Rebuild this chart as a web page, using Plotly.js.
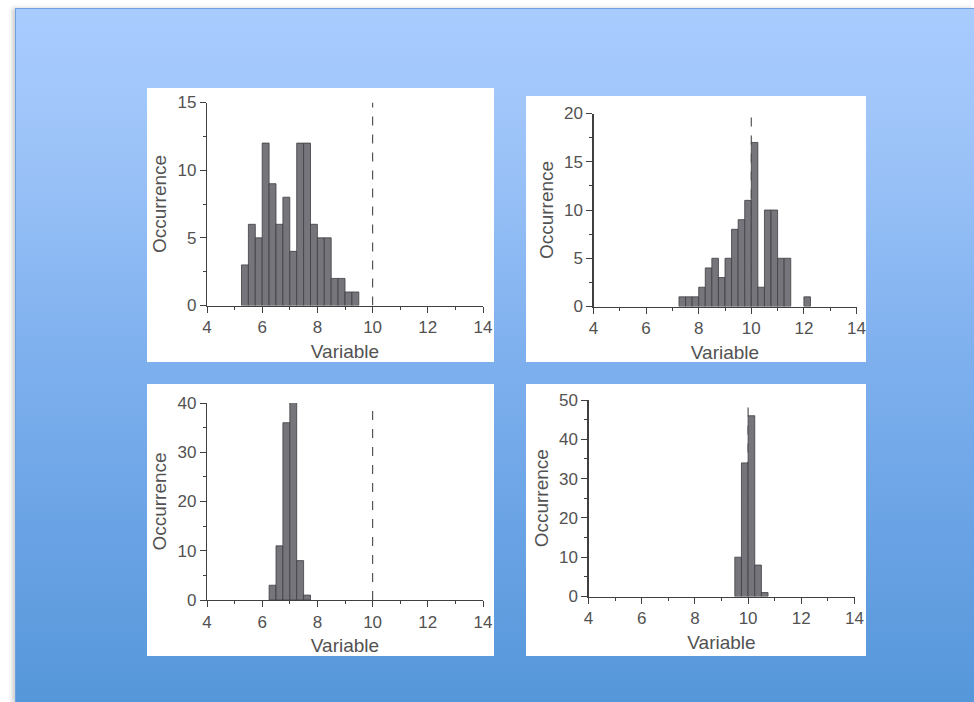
<!DOCTYPE html>
<html>
<head>
<meta charset="utf-8">
<script src="https://cdn.plot.ly/plotly-3.0.1.min.js"></script>
<style>
  html, body { margin: 0; padding: 0; background: #ffffff; }
  #wrap { position: relative; width: 974px; height: 702px; overflow: hidden; background: #ffffff; }
  #bg { position: absolute; left: 15px; top: 8px; width: 959px; height: 694px;
        background: linear-gradient(to bottom, #a9ccff 0%, #9cc3f8 20%, #7eb0ee 50%, #6aa3e5 75%, #5597da 100%);
        border-top: 1px solid #6f9fe0; border-left: 1px solid #6f9fe0;
        box-shadow: -3px 0 4px rgba(120,120,120,0.35); }
  #chart { position: absolute; left: 0; top: 0; width: 974px; height: 702px; }
</style>
</head>
<body>
<div id="wrap">
  <div id="bg"></div>
  <div id="chart"></div>
</div>
<script>
// ---------------- data ----------------
const binWidth = 0.25;
const targetValue = 10;

const binCenters1 = [5.375, 5.625, 5.875, 6.125, 6.375, 6.625, 6.875, 7.125, 7.375, 7.625, 7.875, 8.125, 8.375, 8.625, 8.875, 9.125, 9.375];
const counts1     = [3, 6, 5, 12, 9, 6, 8, 4, 12, 12, 6, 5, 5, 2, 2, 1, 1];

const binCenters2 = [7.375, 7.625, 7.875, 8.125, 8.375, 8.625, 8.875, 9.125, 9.375, 9.625, 9.875, 10.125, 10.375, 10.625, 10.875, 11.125, 11.375, 12.125];
const counts2     = [1, 1, 1, 2, 4, 5, 3, 5, 8, 9, 11, 17, 2, 10, 10, 5, 5, 1];

const binCenters3 = [6.375, 6.625, 6.875, 7.125, 7.375, 7.625];
const counts3     = [3, 11, 36, 41, 8, 1];

const binCenters4 = [9.625, 9.875, 10.125, 10.375, 10.625];
const counts4     = [10, 34, 46, 8, 1];

const xTickVals   = [4, 6, 8, 10, 12, 14];
const yMax        = [15, 20, 40, 50];
const yDtick      = [5, 5, 10, 10];
const yMinorDtick = [2.5, 2.5, 5, 5];
const refLineTop  = [15, 20, 40, 49];
const xLabel = "Variable";
const yLabel = "Occurrence";

// ---------------- layout geometry (pixels -> paper) ----------------
const W = 974, H = 702;
const px = v => v / W;
const py = v => 1 - v / H;

// plot areas: [xLeft, xRight, yBottom, yTop] in pixels
const plotBoxes = [
  [207, 483, 305.5, 102.5],
  [593.5, 856.5, 306.5, 113.5],
  [207, 483, 600, 403],
  [588.5, 854.5, 596.5, 400]
];
// white panels: [x0, x1, y0(top), y1(bottom)] in pixels
const panels = [
  [147, 494, 88, 362],
  [526, 866, 96, 362],
  [147, 494, 384, 656],
  [526, 866, 384, 656]
];

const centersAll = [binCenters1, binCenters2, binCenters3, binCenters4];
const countsAll  = [counts1, counts2, counts3, counts4];

const fontFam = "Liberation Sans, Arial, Helvetica, sans-serif";
const textCol = "#525252";
const axisCol = "#404040";

const traces = [];
const layout = {
  width: W, height: H,
  margin: {l: 0, r: 0, t: 0, b: 0},
  paper_bgcolor: "rgba(0,0,0,0)",
  plot_bgcolor: "rgba(0,0,0,0)",
  showlegend: false,
  bargap: 0,
  font: {family: fontFam, color: textCol, size: 17},
  shapes: []
};

for (let i = 0; i < 4; i++) {
  const n = i === 0 ? "" : String(i + 1);
  const xa = "x" + n, ya = "y" + n;
  traces.push({
    type: "bar",
    x: centersAll[i],
    y: countsAll[i],
    width: binWidth,
    xaxis: xa, yaxis: ya,
    marker: {
      color: "#75757b",
      line: {color: "#3e3e42", width: 0.8}
    },
    hoverinfo: "x+y"
  });

  const b = plotBoxes[i];
  layout["xaxis" + n] = {
    domain: [px(b[0]), px(b[1])],
    anchor: ya,
    range: [4, 14],
    tickvals: xTickVals,
    ticks: "outside", ticklen: 6, tickwidth: 1, tickcolor: axisCol,
    minor: {dtick: 1, tick0: 4, ticks: "outside", ticklen: 3, tickcolor: axisCol, showgrid: false},
    showline: true, linecolor: axisCol, linewidth: 1.2,
    showgrid: false, zeroline: false,
    tickfont: {family: fontFam, size: 17, color: textCol},
    title: {text: xLabel, font: {family: fontFam, size: 19, color: textCol}, standoff: 8},
    fixedrange: true
  };
  layout["yaxis" + n] = {
    domain: [py(b[2]), py(b[3])],
    anchor: xa,
    range: [0, yMax[i]],
    dtick: yDtick[i], tick0: 0,
    ticks: "outside", ticklen: 6, tickwidth: 1, tickcolor: axisCol,
    minor: {dtick: yMinorDtick[i], tick0: 0, ticks: "outside", ticklen: 3, tickcolor: axisCol, showgrid: false},
    showline: true, linecolor: axisCol, linewidth: 1.2,
    showgrid: false, zeroline: false,
    tickfont: {family: fontFam, size: 17, color: textCol},
    title: {text: yLabel, font: {family: fontFam, size: 19, color: textCol}, standoff: 5},
    fixedrange: true
  };

  const p = panels[i];
  layout.shapes.push({
    type: "rect", xref: "paper", yref: "paper", layer: "below",
    x0: px(p[0]), x1: px(p[1]), y0: py(p[3]), y1: py(p[2]),
    fillcolor: "#ffffff", line: {width: 0}
  });
  layout.shapes.push({
    type: "line", xref: xa, yref: ya, layer: "below",
    x0: targetValue, x1: targetValue, y0: 0, y1: refLineTop[i],
    line: {color: "#555555", width: 1.2, dash: "dash"}
  });
}

Plotly.newPlot("chart", traces, layout, {displayModeBar: false, staticPlot: true});
</script>
</body>
</html>
